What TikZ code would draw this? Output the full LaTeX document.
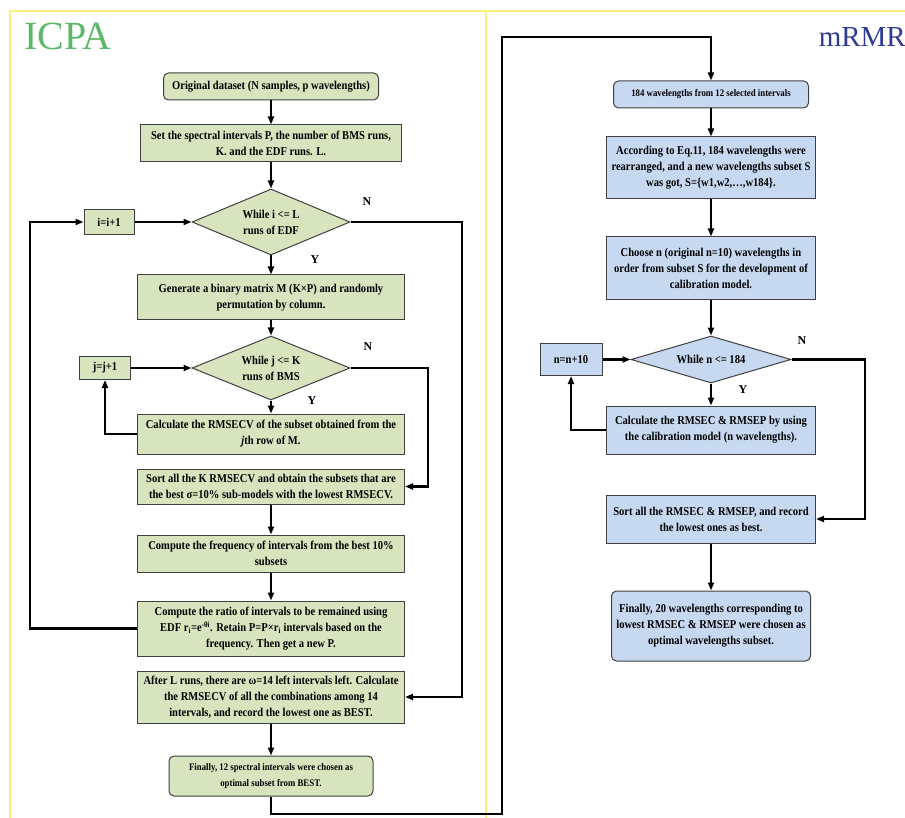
\documentclass[tikz,border=0pt]{standalone}
\usepackage{fontspec}
\setmainfont{Liberation Serif}
\newfontfamily\flowfont[FakeStretch=0.88]{Liberation Serif}
\usepackage{xcolor}
\usepackage{tikz}
\usetikzlibrary{shapes.geometric,arrows.meta}

\definecolor{boxgreen}{RGB}{215,228,189}
\definecolor{boxblue}{RGB}{198,217,241}
\definecolor{framey}{RGB}{246,240,130}
\definecolor{icpagreen}{RGB}{92,184,104}
\definecolor{mrmrblue}{RGB}{46,60,150}

\begin{document}
\begin{tikzpicture}[x=1pt,y=1pt,yscale=-1,
  flow/.style={font=\flowfont\bfseries\fontsize{12}{16}\selectfont, align=center, inner sep=1pt, draw=black!75, line width=1pt},
  smalltxt/.style={font=\flowfont\bfseries\fontsize{10}{16}\selectfont},
  gbox/.style={flow, fill=boxgreen},
  bbox/.style={flow, fill=boxblue},
  gdia/.style={gbox, diamond, shape aspect=2.4},
  bdia/.style={bbox, diamond, shape aspect=3.4},
  yn/.style={font=\bfseries\fontsize{12}{12}\selectfont, inner sep=0pt},
  arr/.style={line width=2.2pt, -{Triangle[length=8pt,width=6pt]}},
  frame/.style={framey, line width=1.5pt}]
\path[use as bounding box] (0,0) rectangle (905,818);

%Frames
\draw[frame] (10,818) -- (10,11) -- (905,11);
\draw[frame] (486,11) -- (486,818);

% Title Nodes
\node[anchor=base west, inner sep=0pt, text=icpagreen, font=\fontsize{40}{40}\selectfont] (icpa) at (24,50) {ICPA};
\node[anchor=base east, inner sep=0pt, text=mrmrblue, font=\fontsize{29}{29}\selectfont] (mrmr) at (906,47) {mRMR};

%ICPA boxes
\node[gbox, rounded corners=5pt, minimum width=215, minimum height=27] (orig) at (271,86.5) {Original dataset (N samples, p wavelengths)};
\node[gbox, minimum width=261, minimum height=37] (setp) at (271,143.5) {Set the spectral intervals P, the number of BMS runs,\\K. and the EDF runs. L.};
\node[gdia, minimum width=158, minimum height=66] (dia1) at (271,222) {While i <= L\\runs of EDF};
\node[gbox, minimum width=50, minimum height=25] (inc1) at (109,222) {i=i+1};
\node[gbox, minimum width=267, minimum height=45] (gen) at (271,297.5) {Generate a binary matrix M (K×P) and randomly\\permutation by column.};
\node[gdia, minimum width=158, minimum height=64] (dia2) at (271,368) {While j <= K\\runs of BMS};
\node[gbox, minimum width=51, minimum height=23] (inc2) at (105,368) {j=j+1};
\node[gbox, minimum width=267, minimum height=40] (calc) at (271,434) {Calculate the RMSECV of the subset obtained from the\\\textit{j}th row of M.};
\node[gbox, minimum width=267, minimum height=35] (sort) at (271,486.5) {Sort all the K RMSECV and obtain the subsets that are\\the best σ=10\% sub-models with the lowest RMSECV.};
\node[gbox, minimum width=267, minimum height=37] (freq) at (271,553.5) {Compute the frequency of intervals from the best 10\%\\subsets};
\node[gbox, minimum width=267, minimum height=55] (ratio) at (271,628.5) {Compute the ratio of intervals to be remained using\\EDF r\textsubscript{i}=e\textsuperscript{-θi}. Retain P=P×r\textsubscript{i} intervals based on the\\frequency. Then get a new P.};
\node[gbox, minimum width=267, minimum height=52] (after) at (271,697) {After L runs, there are ω=14 left intervals left. Calculate\\the RMSECV of all the combinations among 14\\intervals, and record the lowest one as BEST.};
\node[gbox, smalltxt, rounded corners=5pt, minimum width=204, minimum height=40] (fin1) at (271,776) {Finally, 12 spectral intervals were chosen as\\optimal subset from BEST.};

%mRMR boxes
\node[bbox, smalltxt, rounded corners=5pt, minimum width=195, minimum height=27] (wl184) at (711,94.5) {184 wavelengths from 12 selected intervals};
\node[bbox, minimum width=209, minimum height=62] (eq11) at (711,168) {According to Eq.11, 184 wavelengths were\\rearranged, and a new wavelengths subset S\\was got, S=\{w1,w2,…,w184\}.};
\node[bbox, minimum width=209, minimum height=63] (choose) at (711,268.5) {Choose n (original n=10) wavelengths in\\order from subset S for the development of\\calibration model.};
\node[bdia, minimum width=160, minimum height=47] (dia3) at (711,359.5) {While n <= 184};
\node[bbox, minimum width=62, minimum height=32] (incn) at (571,359.5) {n=n+10};
\node[bbox, minimum width=209, minimum height=48] (calcn) at (711,430) {Calculate the RMSEC \& RMSEP by using\\the calibration model (n wavelengths).};
\node[bbox, minimum width=209, minimum height=48] (sortn) at (711,519) {Sort all the RMSEC \& RMSEP, and record\\the lowest ones as best.};
\node[bbox, rounded corners=5pt, minimum width=199, minimum height=70] (fin2) at (711,626) {Finally, 20 wavelengths corresponding to\\lowest RMSEC \& RMSEP were chosen as\\optimal wavelengths subset.};

% Y / N labels
\node[yn] (n1) at (367,202) {N};
\node[yn] (y1) at (315,260) {Y};
\node[yn] (n2) at (368,347) {N};
\node[yn] (y2) at (312,401) {Y};
\node[yn] (n3) at (802,341) {N};
\node[yn] (y3) at (743,390) {Y};

%Bend points
\coordinate (c1) at (462,222);
\coordinate (c2) at (428,368);
\coordinate (back1) at (30,222);
\coordinate (bot) at (502,814);
\coordinate (top) at (502,37);
\coordinate (c3) at (865,359.5);

%Straight Lines
\draw[arr] (orig) -- (setp);
\draw[arr] (setp) -- (dia1);
\draw[arr] (dia1) -- (gen);
\draw[arr] (gen) -- (dia2);
\draw[arr] (dia2) -- (calc);
\draw[arr] (sort) -- (freq);
\draw[arr] (freq) -- (ratio);
\draw[arr] (after) -- (fin1);
\draw[arr] (inc1) -- (dia1);
\draw[arr] (inc2) -- (dia2);
\draw[arr] (dia1.east) -- (c1) |- (after.east);
\draw[arr] (dia2.east) -- (c2) |- (sort.east);
\draw[arr] (ratio.west) -| (back1) -- (inc1.west);
\draw[arr] (calc.west) -| (inc2.south);
\draw[arr] (fin1.south) |- (bot) -- (top) -| (wl184.north);
\draw[arr] (wl184) -- (eq11);
\draw[arr] (eq11) -- (choose);
\draw[arr] (choose) -- (dia3);
\draw[arr] (dia3) -- (calcn);
\draw[arr] (incn) -- (dia3);
\draw[arr] (sortn) -- (fin2);
\draw[arr] (dia3.east) -- (c3) |- (sortn.east);
\draw[arr] (calcn.west) -| (incn.south);

\end{tikzpicture}
\end{document}
